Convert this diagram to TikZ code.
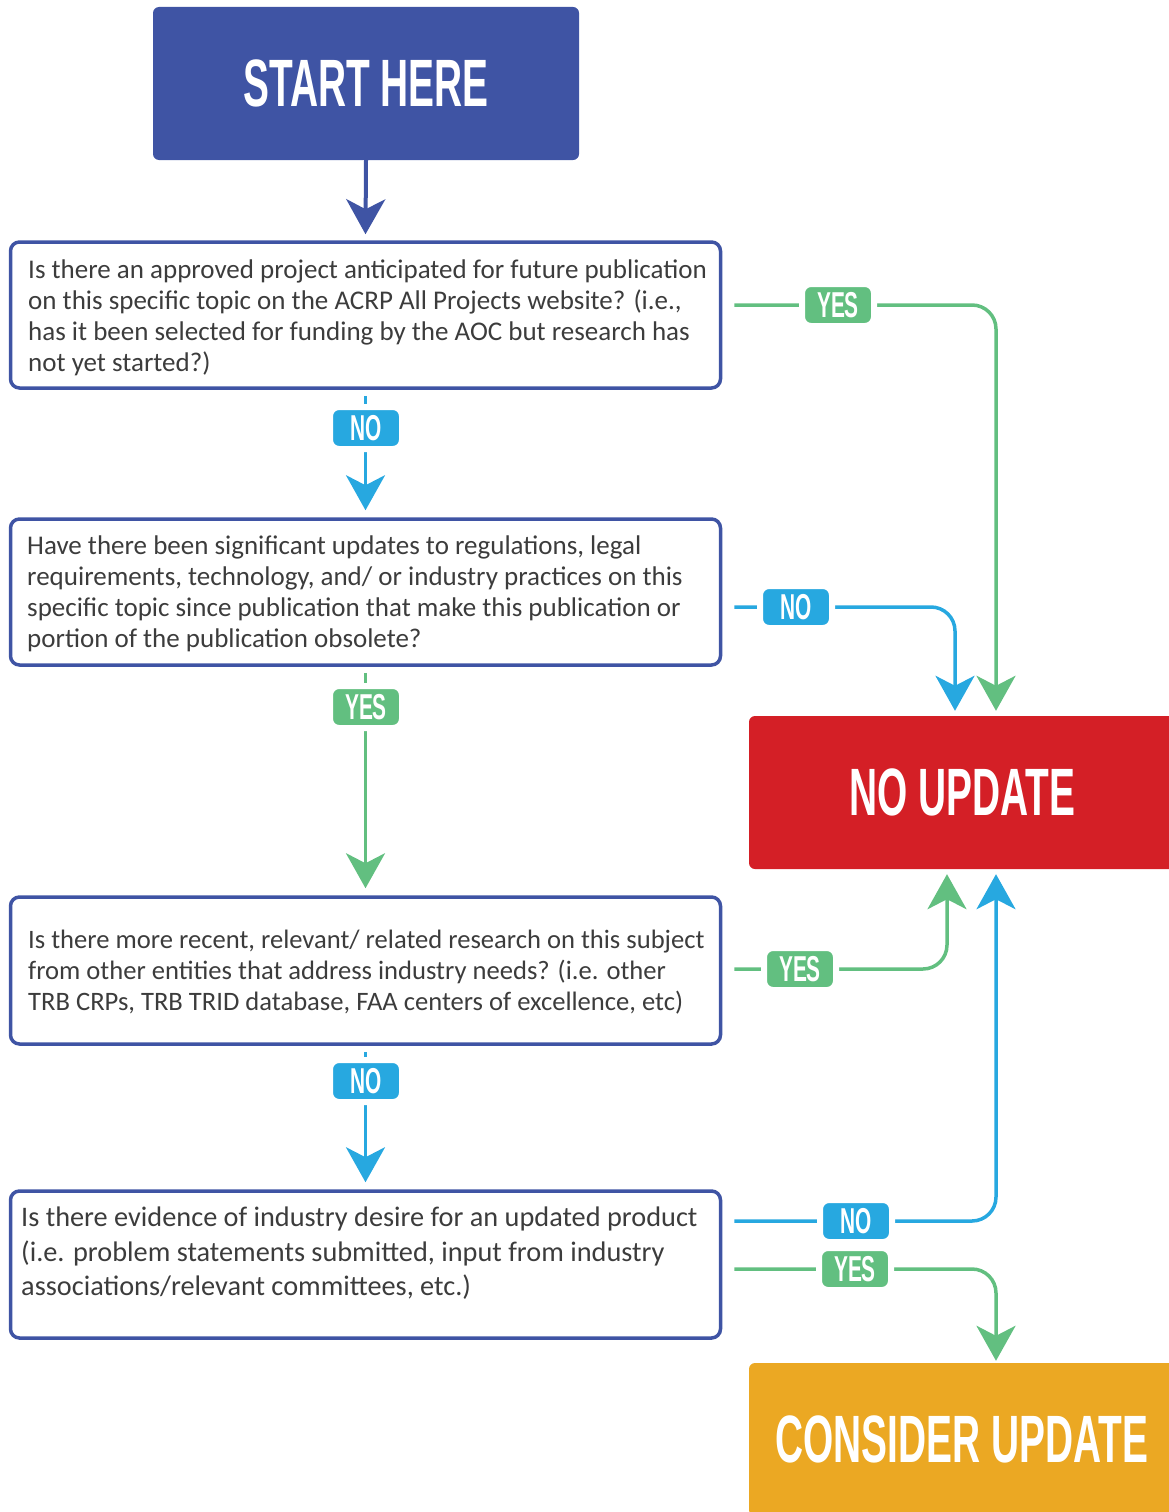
\documentclass[tikz,border=0pt]{standalone}
\usepackage{fontspec}
\usepackage{graphicx}
\setmainfont{Carlito}
\newfontfamily\headfont{Liberation Sans}
\usetikzlibrary{arrows.meta,calc}
\definecolor{cdblue}{HTML}{3F54A4}
\definecolor{ccyan}{HTML}{27A8E0}
\definecolor{cgreen}{HTML}{62BF80}
\definecolor{cred}{HTML}{D41F26}
\definecolor{corange}{HTML}{EBA823}
\definecolor{ctext}{HTML}{3C3C3C}
\newcommand\cond[1]{\scalebox{0.58}[1]{#1}}
\pgfdeclarelayer{bg}
\pgfsetlayers{bg,main}
\tikzset{
  bigbox/.style={minimum width=426pt, minimum height=153pt, inner sep=0pt, rounded corners=6pt, text=white,
    font=\headfont\bfseries\fontsize{67}{67}\selectfont},
  qbox/.style={draw=cdblue, line width=3.5pt, rounded corners=9pt, minimum width=710pt, inner sep=0pt},
  qtext/.style={anchor=west, align=left, inner sep=0pt, text=ctext},
  lab/.style={rounded corners=9pt, minimum width=72pt, minimum height=42pt, inner sep=0pt, text=white,
    draw=white, line width=6pt, font=\headfont\bfseries\fontsize{36}{36}\selectfont},
  tip/.style={-{Stealth[length=35pt,width=39pt,inset=10pt]}},
  conn/.style={line width=3.5pt, rounded corners=24pt, tip},
}
\begin{document}
\begin{tikzpicture}[x=1pt,y=-1pt]
\useasboundingbox (0,0) rectangle (1169,1512);
\clip (0,0) rectangle (1169,1512);

% terminal boxes
\node[bigbox, fill=cdblue] (start) at (366,83.5) {\cond{START HERE}};
\node[bigbox, fill=cred] (nu) at (962,792.5) {\cond{NO UPDATE}};
\node[bigbox, fill=corange] (cu) at (962,1439.5) {\cond{CONSIDER UPDATE}};

% question boxes
\node[qbox, minimum height=146pt] (b1) at (365.5,315) {};
\node[qbox, minimum height=146pt] (b2) at (365.5,592) {};
\node[qbox, minimum height=147pt] (b3) at (365.5,970.5) {};
\node[qbox, minimum height=147pt] (b4) at (365.5,1264.5) {};

\node[qtext, font=\fontsize{27}{31}\selectfont] (t1) at (28,317.5)
 {Is there an approved project anticipated for future publication\\
  on this specific topic on the ACRP All Projects website? (i.e.,\\
  has it been selected for funding by the AOC but research has\\
  not yet started?)};
\node[qtext, font=\fontsize{27}{31}\selectfont] (t2) at (27,594)
 {Have there been significant updates to regulations, legal\\
  requirements, technology, and/ or industry practices on this\\
  specific topic since publication that make this publication or\\
  portion of the publication obsolete?};
\node[qtext, font=\fontsize{26.6}{31}\selectfont] (t3) at (28,972.5)
 {Is there more recent, relevant/ related research on this subject\\
  from other entities that address industry needs? (i.e. other\\
  TRB CRPs, TRB TRID database, FAA centers of excellence, etc)};
\node[qtext, font=\fontsize{28.3}{34.5}\selectfont] (t4) at (21,1253.5)
 {Is there evidence of industry desire for an updated product\\
  (i.e. problem statements submitted, input from industry\\
  associations/relevant committees, etc.)};

% labels
\node[lab, fill=ccyan] (v1) at (366,428) {\cond{NO}};
\node[lab, fill=cgreen] (v2) at (366,707) {\cond{YES}};
\node[lab, fill=ccyan] (v3) at (366,1081) {\cond{NO}};
\node[lab, fill=cgreen] (l1) at (838,305) {\cond{YES}};
\node[lab, fill=ccyan] (l2) at (796,607) {\cond{NO}};
\node[lab, fill=cgreen] (l3) at (800,969) {\cond{YES}};
\node[lab, fill=ccyan] (l4) at (856,1221) {\cond{NO}};
\node[lab, fill=cgreen] (l5) at (855,1269) {\cond{YES}};

% connectors
\begin{pgfonlayer}{bg}
\draw[conn, cdblue, line width=4pt] (start.south) -- ([yshift=6pt]b1.north);
\draw[conn, ccyan] ([yshift=-6pt]b1.south) -- ([yshift=7pt]b2.north);
\draw[conn, cgreen] ([yshift=-6pt]b2.south) -- ([yshift=7pt]b3.north);
\draw[conn, ccyan] ([yshift=-6pt]b3.south) -- ([yshift=7pt]b4.north);

\draw[conn, cgreen] ($(b1.east|-l1)+(12,0)$) -| ([xshift=34pt,yshift=5pt]nu.north);
\draw[conn, ccyan] ($(b2.east|-l2)+(12,0)$) -| ([xshift=-7pt,yshift=5pt]nu.north);
\draw[conn, cgreen] ($(b3.east|-l3)+(12,0)$) -| ([xshift=-15pt,yshift=-5pt]nu.south);
\draw[conn, ccyan] ($(b4.east|-l4)+(12,0)$) -| ([xshift=34pt,yshift=-5pt]nu.south);
\draw[conn, cgreen] ($(b4.east|-l5)+(12,0)$) -| ([xshift=34pt,yshift=2pt]cu.north);
\end{pgfonlayer}
\end{tikzpicture}
\end{document}
